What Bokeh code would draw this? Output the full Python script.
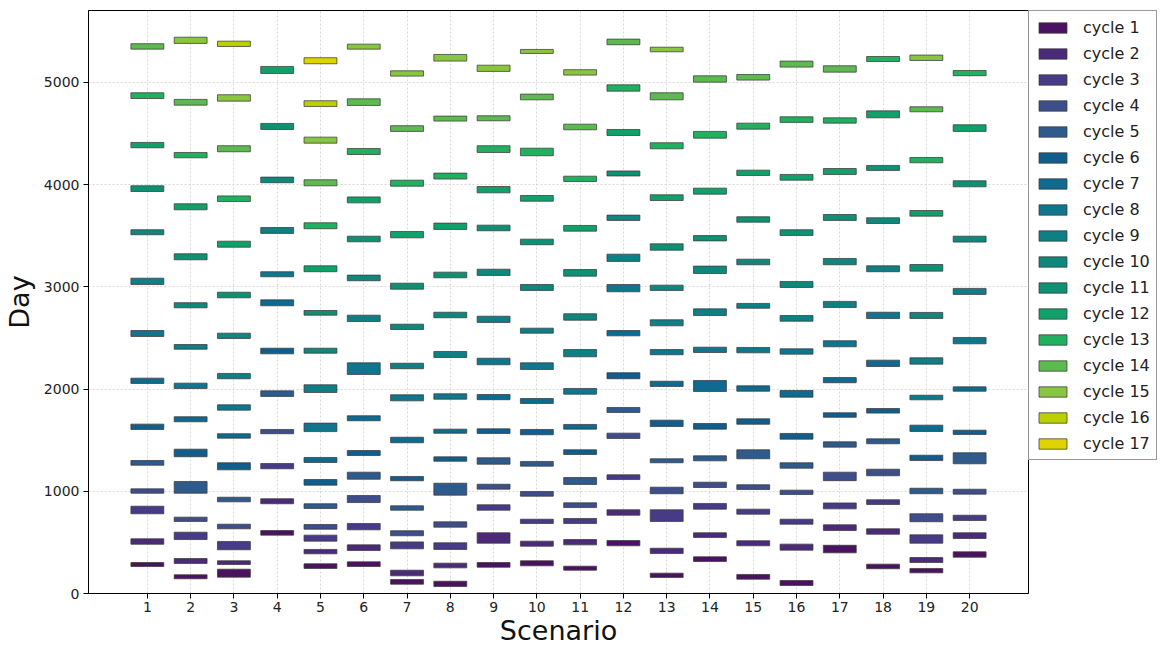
from bokeh.plotting import figure
from bokeh.models import Range1d, FixedTicker, Legend, LegendItem, ColumnDataSource
from bokeh.embed import file_html
from bokeh.resources import INLINE

# ---------------- data ----------------
scenarios = list(range(1, 21))
cycle_labels = [f"cycle {i}" for i in range(1, 18)]
cycle_colors = ["#4a1260", "#4b2a7a", "#473b87", "#3d4e8a", "#2e5b8c", "#115e8c",
                "#0e6a8e", "#0f768e", "#0f7e85", "#0f877c", "#109072", "#12a06a",
                "#21b060", "#5cba50", "#88c540", "#bcd000", "#e0d400"]

# (start day, end day) of each cycle, bottom to top, per scenario
sc1 = [(264, 303), (482, 535), (780, 854), (981, 1024), (1255, 1301), (1605, 1657), (2055, 2107),
       (2515, 2573), (3023, 3085), (3510, 3559), (3933, 3989), (4361, 4413), (4843, 4899), (5326, 5379)]
sc2 = [(144, 183), (294, 342), (528, 600), (705, 747), (981, 1096), (1338, 1412), (1680, 1729),
       (2006, 2058), (2390, 2436), (2795, 2845), (3265, 3324), (3754, 3813), (4263, 4315), (4778, 4834),
       (5382, 5443)]
sc3 = [(160, 238), (284, 320), (428, 509), (633, 678), (897, 942), (1210, 1279), (1520, 1563),
       (1794, 1846), (2101, 2153), (2495, 2547), (2893, 2948), (3388, 3447), (3835, 3890), (4322, 4381),
       (4817, 4880), (5352, 5404)]
sc4 = [(571, 616), (878, 927), (1220, 1272), (1563, 1605), (1928, 1983), (2345, 2400), (2815, 2873),
       (3099, 3148), (3523, 3581), (4019, 4074), (4540, 4599), (5088, 5157)]
sc5 = [(245, 291), (388, 431), (512, 571), (629, 675), (832, 878), (1060, 1115), (1282, 1331),
       (1584, 1667), (1967, 2042), (2351, 2400), (2723, 2769), (3148, 3206), (3569, 3627), (3989, 4048),
       (4406, 4465), (4765, 4821), (5183, 5242)]
sc6 = [(264, 310), (421, 476), (623, 685), (890, 959), (1118, 1187), (1350, 1399), (1690, 1739),
       (2143, 2257), (2661, 2723), (3060, 3115), (3441, 3496), (3822, 3880), (4295, 4354), (4775, 4840),
       (5326, 5375)]
sc7 = [(91, 137), (173, 228), (437, 505), (565, 614), (815, 858), (1103, 1145), (1475, 1529),
       (1885, 1944), (2199, 2253), (2583, 2635), (2977, 3036), (3480, 3542), (3985, 4044), (4521, 4577),
       (5062, 5114)]
sc8 = [(68, 120), (251, 297), (431, 496), (649, 701), (962, 1079), (1294, 1337), (1568, 1608),
       (1901, 1954), (2309, 2368), (2698, 2752), (3089, 3144), (3562, 3624), (4055, 4113), (4622, 4671),
       (5209, 5274)]
sc9 = [(257, 303), (492, 594), (815, 868), (1021, 1069), (1265, 1328), (1566, 1611), (1896, 1947),
       (2238, 2302), (2652, 2713), (3112, 3173), (3549, 3604), (3920, 3982), (4315, 4381), (4625, 4674),
       (5108, 5169)]
sc10 = [(271, 320), (463, 512), (685, 727), (952, 998), (1246, 1292), (1553, 1605), (1859, 1908),
        (2192, 2257), (2547, 2596), (2965, 3023), (3412, 3467), (3838, 3894), (4283, 4357), (4830, 4886),
        (5284, 5323)]
sc11 = [(228, 267), (476, 528), (685, 734), (841, 887), (1067, 1135), (1360, 1406), (1608, 1654),
        (1950, 2006), (2316, 2387), (2674, 2737), (3105, 3170), (3545, 3601), (4031, 4083), (4537, 4592),
        (5072, 5125)]
sc12 = [(467, 519), (766, 819), (1115, 1161), (1517, 1569), (1771, 1820), (2101, 2160), (2521, 2573),
        (2952, 3023), (3249, 3320), (3650, 3702), (4085, 4134), (4481, 4540), (4915, 4977), (5369, 5424)]
sc13 = [(157, 199), (391, 443), (705, 819), (976, 1040), (1279, 1318), (1634, 1696), (2026, 2077),
        (2336, 2387), (2619, 2678), (2965, 3017), (3359, 3421), (3845, 3901), (4351, 4410), (4830, 4899),
        (5300, 5345)]
sc14 = [(313, 359), (548, 594), (825, 881), (1037, 1089), (1298, 1347), (1608, 1663), (1976, 2084),
        (2358, 2410), (2720, 2785), (3131, 3203), (3450, 3502), (3907, 3966), (4455, 4521), (5003, 5065)]
sc15 = [(140, 186), (467, 516), (776, 825), (1018, 1064), (1318, 1406), (1656, 1709), (1979, 2032),
        (2355, 2407), (2791, 2838), (3216, 3271), (3633, 3686), (4090, 4142), (4543, 4602), (5023, 5078)]
sc16 = [(78, 127), (424, 483), (678, 727), (969, 1011), (1226, 1279), (1510, 1566), (1921, 1986),
        (2342, 2394), (2664, 2720), (2994, 3053), (3503, 3559), (4044, 4100), (4609, 4664), (5150, 5209)]
sc17 = [(398, 472), (616, 672), (828, 886), (1104, 1187), (1432, 1484), (1724, 1768), (2062, 2113),
        (2414, 2473), (2798, 2858), (3216, 3278), (3650, 3708), (4099, 4158), (4602, 4654), (5101, 5163)]
sc18 = [(242, 287), (580, 633), (871, 917), (1152, 1216), (1465, 1513), (1765, 1810), (2221, 2283),
        (2690, 2752), (3148, 3206), (3620, 3676), (4139, 4188), (4654, 4722), (5205, 5254)]
sc19 = [(202, 245), (303, 352), (492, 574), (702, 780), (976, 1030), (1301, 1353), (1585, 1647),
        (1895, 1940), (2244, 2306), (2691, 2750), (3154, 3219), (3692, 3747), (4214, 4266), (4713, 4762),
        (5215, 5268)]
sc20 = [(355, 408), (538, 594), (714, 766), (972, 1020), (1269, 1377), (1556, 1598), (1979, 2022),
        (2443, 2505), (2926, 2985), (3438, 3496), (3979, 4038), (4521, 4586), (5066, 5117)]

scenario_boxes = [sc1, sc2, sc3, sc4, sc5, sc6, sc7, sc8, sc9, sc10,
                  sc11, sc12, sc13, sc14, sc15, sc16, sc17, sc18, sc19, sc20]
y_ticks = [0, 1000, 2000, 3000, 4000, 5000]

FONT = "DejaVu Sans"

# ---------------- figure ----------------
p = figure(frame_width=940, frame_height=583,
           x_range=Range1d(-0.36, 21.36), y_range=Range1d(0, 5704),
           output_backend="svg", toolbar_location=None,
           min_border_top=10, min_border_bottom=0, min_border_left=86, min_border_right=0)

items = []
for k, (label, color) in enumerate(zip(cycle_labels, cycle_colors)):
    xs, bottoms, tops = [], [], []
    for s, boxes in zip(scenarios, scenario_boxes):
        if k < len(boxes):
            xs.append(s)
            bottoms.append(boxes[k][0])
            tops.append(boxes[k][1])
    src = ColumnDataSource(dict(x=xs, bottom=bottoms, top=tops))
    r = p.vbar(x="x", bottom="bottom", top="top", width=0.76, source=src,
               fill_color=color, fill_alpha=1.0,
               line_color="#3a3a3a", line_alpha=0.75, line_width=1)
    items.append(LegendItem(label=label, renderers=[r]))

legend = Legend(items=items, location="top_left", margin=0, padding=6, spacing=6,
                glyph_width=35, glyph_height=13, label_height=20, label_standoff=13,
                label_text_font=FONT, label_text_font_size="16px", label_text_color="#222222",
                border_line_color="#333333", border_line_width=1, background_fill_color="white")
p.add_layout(legend, "right")

# axes
p.xaxis.ticker = FixedTicker(ticks=scenarios)
p.yaxis.ticker = FixedTicker(ticks=y_ticks)
for ax in (p.xaxis, p.yaxis):
    ax.major_tick_out = 5
    ax.major_tick_in = 0
    ax.minor_tick_line_color = None
    ax.axis_line_color = "black"
    ax.major_tick_line_color = "black"
    ax.major_label_text_font = FONT
    ax.major_label_text_font_size = "14px"
    ax.major_label_text_color = "#222222"
    ax.axis_label_text_font = FONT
    ax.axis_label_text_font_size = "27px"
    ax.axis_label_text_font_style = "normal"
    ax.axis_label_text_color = "#111111"

p.xaxis.axis_label = "Scenario"
p.yaxis.axis_label = "Day"
p.xaxis.major_label_standoff = 3
p.xaxis.axis_label_standoff = 0
p.yaxis.major_label_standoff = 4
p.yaxis.axis_label_standoff = 6

p.grid.grid_line_color = "#d8d8d8"
p.grid.grid_line_dash = "2 2"
p.grid.grid_line_width = 1

p.outline_line_color = "black"
p.outline_line_width = 1
p.outline_line_alpha = 1
p.background_fill_color = "white"
p.border_fill_color = "white"

open("out.html", "w").write(file_html(p, INLINE))
